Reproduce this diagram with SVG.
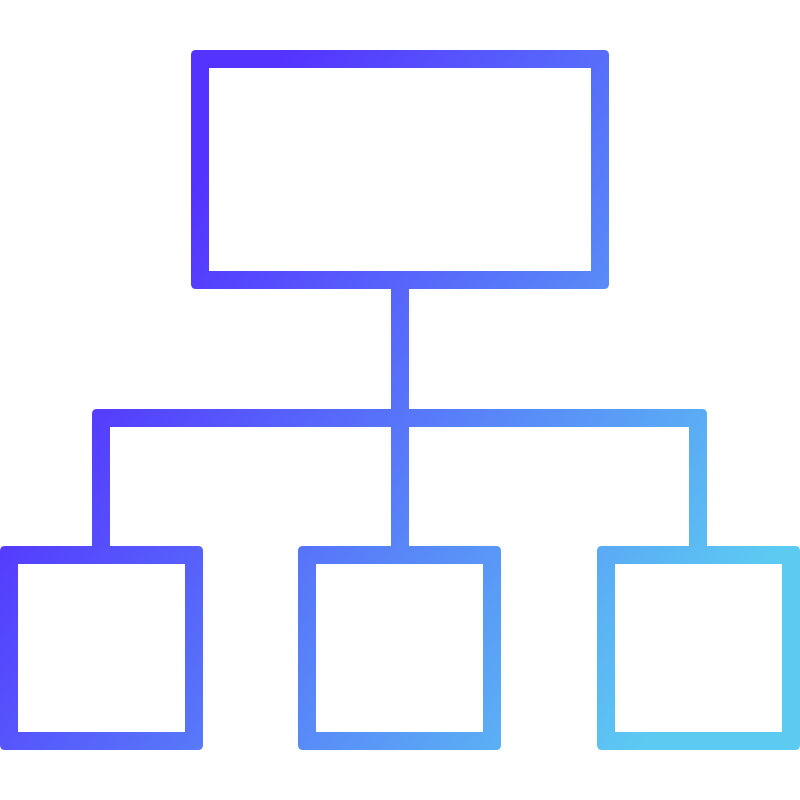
<svg xmlns="http://www.w3.org/2000/svg" width="800" height="800" viewBox="0 0 800 800">
  <defs>
    <linearGradient id="g" gradientUnits="userSpaceOnUse" x1="221" y1="148" x2="792" y2="532">
      <stop offset="0" stop-color="#5433FF"/>
      <stop offset="1" stop-color="#5CCBF2"/>
    </linearGradient>
  </defs>
  <style>
    .s { fill: url(#g); fill-rule: evenodd; }
  </style>
  <rect width="800" height="800" fill="#FFFFFF"/>
  <g id="connectors">
    <rect class="s" x="391" y="285" width="18" height="126"/>
    <path class="s" d="M92,546 V414 Q92,409 97,409 H702 Q707,409 707,414 V546 H689 V427 H409 V546 H391 V427 H110 V546 Z"/>
  </g>
  <g id="top">
    <path class="s" d="M196,50 H604 Q609,50 609,55 V284 Q609,289 604,289 H196 Q191,289 191,284 V55 Q191,50 196,50 Z M209,68 H591 V271 H209 Z"/>
  </g>
  <g id="left">
    <path class="s" d="M5,546 H198 Q203,546 203,551 V745 Q203,750 198,750 H5 Q0,750 0,745 V551 Q0,546 5,546 Z M18,564 H185 V732 H18 Z"/>
  </g>
  <g id="middle">
    <path class="s" d="M303,546 H496 Q501,546 501,551 V745 Q501,750 496,750 H303 Q298,750 298,745 V551 Q298,546 303,546 Z M316,564 H483 V732 H316 Z"/>
  </g>
  <g id="right">
    <path class="s" d="M602,546 H795 Q800,546 800,551 V745 Q800,750 795,750 H602 Q597,750 597,745 V551 Q597,546 602,546 Z M615,564 H782 V732 H615 Z"/>
  </g>
</svg>
